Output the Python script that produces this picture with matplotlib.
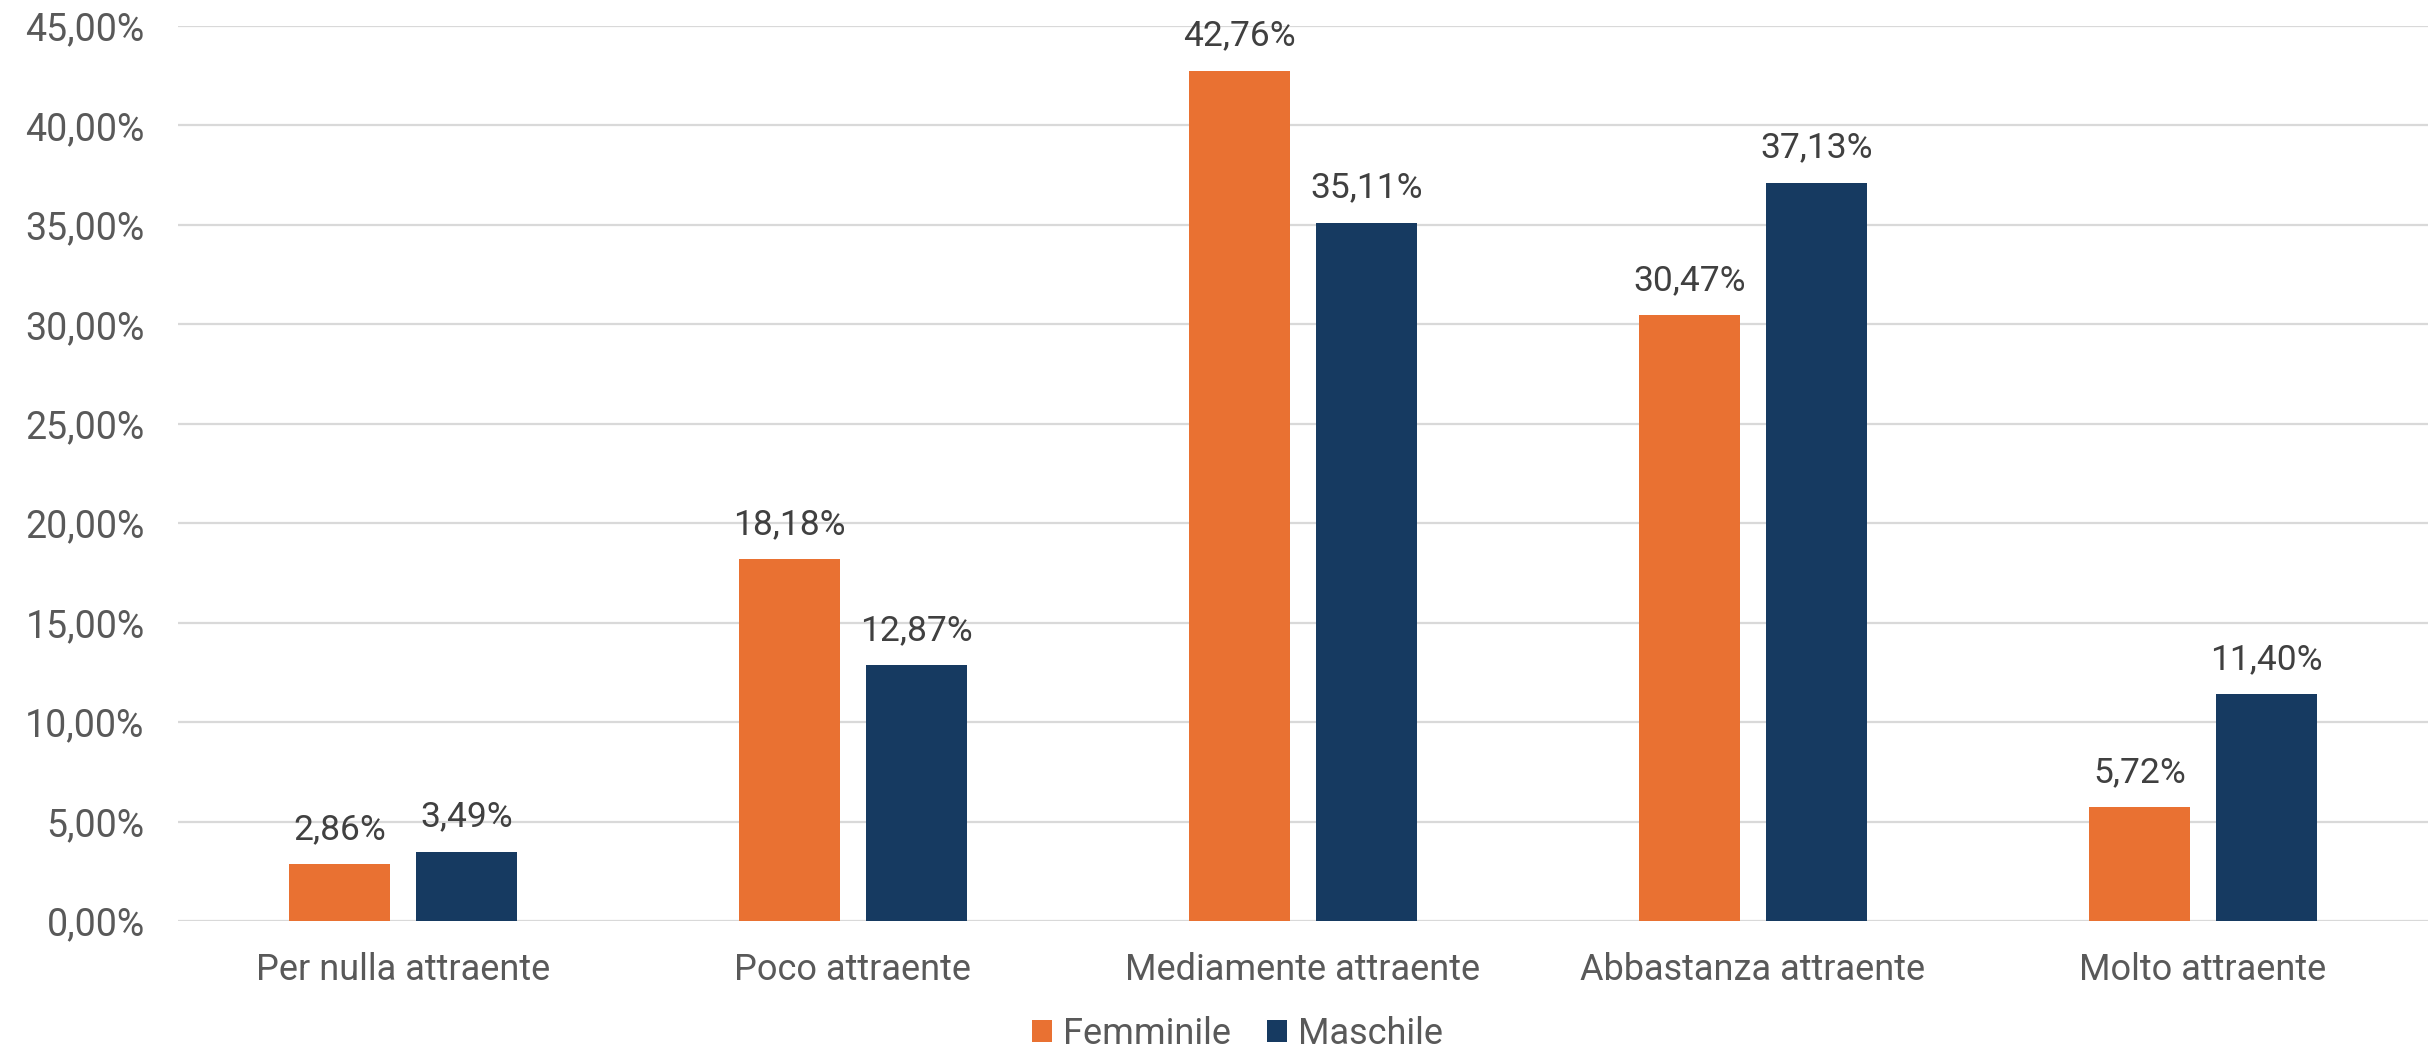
import matplotlib.pyplot as plt
import numpy as np
from matplotlib.ticker import FuncFormatter

# Data
categories = ["Per nulla attraente", "Poco attraente", "Mediamente attraente",
              "Abbastanza attraente", "Molto attraente"]
femminile = [2.86, 18.18, 42.76, 30.47, 5.72]
maschile = [3.49, 12.87, 35.11, 37.13, 11.40]
series_names = ["Femminile", "Maschile"]
colors = ["#E97132", "#163A61"]

plt.rcParams['font.family'] = ['Roboto', 'DejaVu Sans']

fig = plt.figure(figsize=(24.28, 10.59), dpi=100)
ax = fig.add_axes([0.0733, 0.1303, 0.9267, 0.8451])

x = np.arange(len(categories))
width = 0.224
offset = 0.141

bars_f = ax.bar(x - offset, femminile, width, color=colors[0], label=series_names[0], zorder=3)
bars_m = ax.bar(x + offset, maschile, width, color=colors[1], label=series_names[1], zorder=3)

def fmt(v):
    return f"{v:.2f}".replace(".", ",") + "%"

for bars, vals in [(bars_f, femminile), (bars_m, maschile)]:
    for b, v in zip(bars, vals):
        ax.annotate(fmt(v), xy=(b.get_x() + b.get_width() / 2, v),
                    xytext=(0, 25), textcoords="offset points",
                    ha="center", va="center", fontsize=25.5, color="#404040")

ax.set_xlim(-0.5, 4.5)
ax.set_ylim(0, 45)
ax.set_yticks(np.arange(0, 46, 5))
ax.yaxis.set_major_formatter(FuncFormatter(lambda v, p: fmt(v)))
ax.set_xticks(x)
ax.set_xticklabels(categories)

ax.grid(axis="y", color="#D9D9D9", linewidth=1.6, zorder=0)
for s in ax.spines.values():
    s.set_visible(False)
ax.tick_params(axis="both", length=0, labelcolor="#595959")
ax.tick_params(axis="y", pad=24, labelsize=27)
ax.tick_params(axis="x", pad=22, labelsize=26)

fig.legend(loc="center", bbox_to_anchor=(0.5096, 0.0236), ncol=2, frameon=False,
           fontsize=26, labelcolor="#595959", handlelength=0.55, handleheight=0.55,
           handletextpad=0.3, columnspacing=1.0)

fig.savefig("out.png", dpi=100)
